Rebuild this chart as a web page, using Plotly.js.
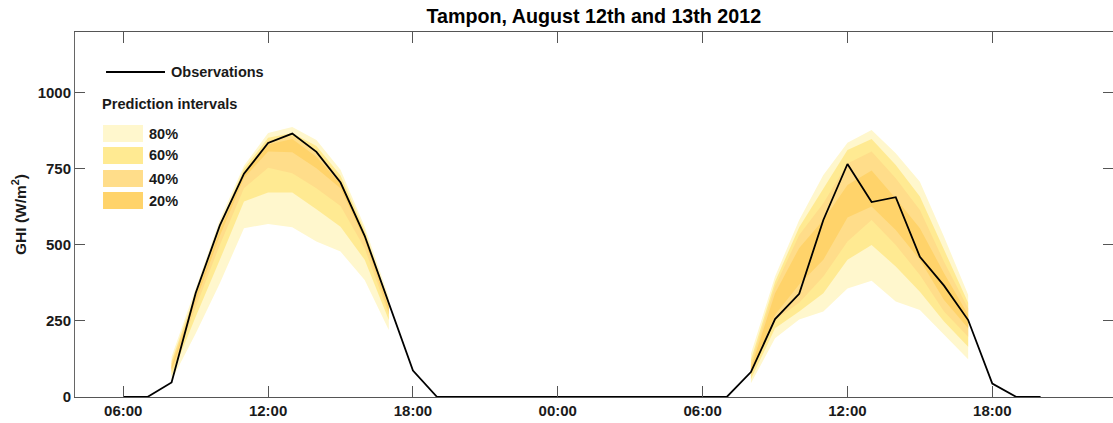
<!DOCTYPE html>
<html>
<head>
<meta charset="utf-8">
<script src="https://cdn.plot.ly/plotly-3.0.1.min.js"></script>
<style>html,body{margin:0;padding:0;background:#fff;}#chart{width:1113px;height:423px;}</style>
</head>
<body>
<div id="chart"></div>
<script>
// ---- Data ----
const chartTitle = 'Tampon, August 12th and 13th 2012';
const yTitle = 'GHI (W/m<sup>2</sup>)';
const yTickVals = [0, 250, 500, 750, 1000];

// Observations, hourly
const obsTimes = [
  '2012-08-12 06:00','2012-08-12 07:00','2012-08-12 08:00','2012-08-12 09:00','2012-08-12 10:00',
  '2012-08-12 11:00','2012-08-12 12:00','2012-08-12 13:00','2012-08-12 14:00','2012-08-12 15:00',
  '2012-08-12 16:00','2012-08-12 17:00','2012-08-12 18:00','2012-08-12 19:00','2012-08-12 20:00',
  '2012-08-12 21:00','2012-08-12 22:00','2012-08-12 23:00','2012-08-13 00:00','2012-08-13 01:00',
  '2012-08-13 02:00','2012-08-13 03:00','2012-08-13 04:00','2012-08-13 05:00','2012-08-13 06:00',
  '2012-08-13 07:00','2012-08-13 08:00','2012-08-13 09:00','2012-08-13 10:00','2012-08-13 11:00',
  '2012-08-13 12:00','2012-08-13 13:00','2012-08-13 14:00','2012-08-13 15:00','2012-08-13 16:00',
  '2012-08-13 17:00','2012-08-13 18:00','2012-08-13 19:00','2012-08-13 20:00'
];
const obsValues = [
  0, 0, 48, 342, 564, 734, 835, 866, 806, 705, 530, 305, 87, 0, 0,
  0, 0, 0, 0, 0, 0, 0, 0, 0, 0, 0, 82, 256, 339, 582, 766, 641, 657, 461, 366, 253, 44, 0, 0
];

// Prediction quantiles, day 1 (Aug 12), 08:00..17:00
const day1Times = ['2012-08-12 08:00','2012-08-12 09:00','2012-08-12 10:00','2012-08-12 11:00','2012-08-12 12:00',
                   '2012-08-12 13:00','2012-08-12 14:00','2012-08-12 15:00','2012-08-12 16:00','2012-08-12 17:00'];
const day1Q10 = [55, 209, 374, 555, 569, 558, 511, 478, 385, 220];
const day1Q20 = [70, 264, 451, 643, 672, 672, 617, 560, 451, 253];
const day1Q30 = [82, 295, 500, 686, 754, 736, 686, 628, 489, 270];
const day1Q40 = [90, 315, 530, 720, 807, 805, 752, 686, 516, 281];
const day1Q60 = [100, 330, 548, 730, 830, 848, 790, 700, 525, 292];
const day1Q70 = [110, 338, 558, 740, 843, 858, 810, 715, 535, 300];
const day1Q80 = [118, 346, 568, 750, 852, 868, 825, 728, 547, 312];
const day1Q90 = [132, 358, 583, 760, 868, 888, 845, 747, 560, 328];

// Prediction quantiles, day 2 (Aug 13), 08:00..17:00
const day2Times = ['2012-08-13 08:00','2012-08-13 09:00','2012-08-13 10:00','2012-08-13 11:00','2012-08-13 12:00',
                   '2012-08-13 13:00','2012-08-13 14:00','2012-08-13 15:00','2012-08-13 16:00','2012-08-13 17:00'];
const day2Q10 = [45, 193, 255, 281, 357, 382, 314, 286, 204, 124];
const day2Q20 = [58, 226, 281, 341, 451, 500, 429, 346, 248, 165];
const day2Q30 = [70, 253, 310, 396, 511, 582, 500, 401, 281, 198];
const day2Q40 = [80, 270, 370, 451, 590, 626, 549, 451, 319, 226];
const day2Q60 = [95, 341, 490, 582, 697, 745, 653, 555, 407, 270];
const day2Q70 = [108, 363, 533, 637, 768, 807, 719, 615, 445, 292];
const day2Q80 = [122, 379, 558, 686, 812, 848, 763, 659, 484, 310];
const day2Q90 = [142, 396, 582, 730, 836, 878, 801, 708, 527, 336];

const bandLabels = ['80%', '60%', '40%', '20%'];
const bandColors = ['#FFF7CD', '#FFEA92', '#FFDD8A', '#FFD36A'];

// ---- Build traces ----
function bandTrace(times, lower, upper, color, name) {
  return {
    type: 'scatter', mode: 'lines', name: name,
    x: times.concat(times.slice().reverse()),
    y: upper.concat(lower.slice().reverse()),
    fill: 'toself', fillcolor: color,
    line: {width: 0, color: color},
    hoverinfo: 'skip', showlegend: false
  };
}
const days = [
  {t: day1Times, lo: [day1Q10, day1Q20, day1Q30, day1Q40], hi: [day1Q90, day1Q80, day1Q70, day1Q60]},
  {t: day2Times, lo: [day2Q10, day2Q20, day2Q30, day2Q40], hi: [day2Q90, day2Q80, day2Q70, day2Q60]}
];
const traces = [];
days.forEach(d => {
  for (let i = 0; i < 4; i++) traces.push(bandTrace(d.t, d.lo[i], d.hi[i], bandColors[i], bandLabels[i]));
});
traces.push({
  type: 'scatter', mode: 'lines', name: 'Observations',
  x: obsTimes, y: obsValues,
  line: {color: '#000000', width: 1.8},
  showlegend: false
});

// ---- Legend drawn in paper coordinates ----
const FONT = 'Liberation Sans, Arial, Helvetica, sans-serif';
const TXT = '#1a1a1a';
const shapes = [
  {type: 'line', xref: 'paper', yref: 'paper', x0: 0.0299, x1: 0.0867, y0: 0.8904, y1: 0.8904,
   line: {color: '#000', width: 1.8}}
];
const annotations = [
  {xref: 'paper', yref: 'paper', x: 0.0905, y: 0.8904, xanchor: 'left', yanchor: 'middle',
   text: 'Observations', showarrow: false, font: {family: FONT, size: 14.5, color: TXT, weight: 'bold'}},
  {xref: 'paper', yref: 'paper', x: 0.0240, y: 0.8027, xanchor: 'left', yanchor: 'middle',
   text: 'Prediction intervals', showarrow: false, font: {family: FONT, size: 14.6, color: TXT, weight: 'bold'}}
];
const swY = [[0.7452, 0.6986], [0.6849, 0.6384], [0.6219, 0.5753], [0.5616, 0.5151]];
bandLabels.forEach((lab, i) => {
  shapes.push({type: 'rect', xref: 'paper', yref: 'paper', x0: 0.0270, x1: 0.0655,
               y0: swY[i][1], y1: swY[i][0], fillcolor: bandColors[i], line: {width: 0}});
  annotations.push({xref: 'paper', yref: 'paper', x: 0.0690, y: (swY[i][0] + swY[i][1]) / 2,
                    xanchor: 'left', yanchor: 'middle', text: lab, showarrow: false,
                    font: {family: FONT, size: 14.5, color: TXT, weight: 'bold'}});
});

const layout = {
  width: 1113, height: 423,
  margin: {l: 75, r: 0, t: 32, b: 26, pad: 0},
  paper_bgcolor: '#ffffff', plot_bgcolor: '#ffffff',
  font: {family: FONT, size: 14, color: TXT, weight: 'bold'},
  title: {text: chartTitle, x: 0.5335, xanchor: 'center', y: 0.962, yanchor: 'middle',
          font: {family: FONT, size: 19.7, color: '#000', weight: 'bold'}},
  showlegend: false,
  xaxis: {
    type: 'date',
    range: ['2012-08-12 04:00', '2012-08-13 23:00'],
    tick0: '2012-08-12 00:00', dtick: 6 * 3600 * 1000, tickformat: '%H:%M',
    ticks: 'inside', ticklen: 11, tickwidth: 1, tickcolor: '#555',
    showline: true, linecolor: '#555', linewidth: 1, mirror: 'ticks',
    showgrid: false, zeroline: false,
    tickfont: {family: FONT, size: 15, color: TXT, weight: 'bold'}
  },
  yaxis: {
    range: [0, 1200], tickvals: yTickVals,
    ticks: 'inside', ticklen: 10, tickwidth: 1, tickcolor: '#555',
    showline: true, linecolor: '#666', linewidth: 1, mirror: 'ticks',
    showgrid: false, zeroline: false,
    tickfont: {family: FONT, size: 15, color: TXT, weight: 'bold'},
    title: {text: yTitle, standoff: 7, font: {family: FONT, size: 15.5, color: TXT, weight: 'bold'}}
  },
  shapes: shapes,
  annotations: annotations
};

Plotly.newPlot('chart', traces, layout, {displayModeBar: false, staticPlot: true});
</script>
</body>
</html>
